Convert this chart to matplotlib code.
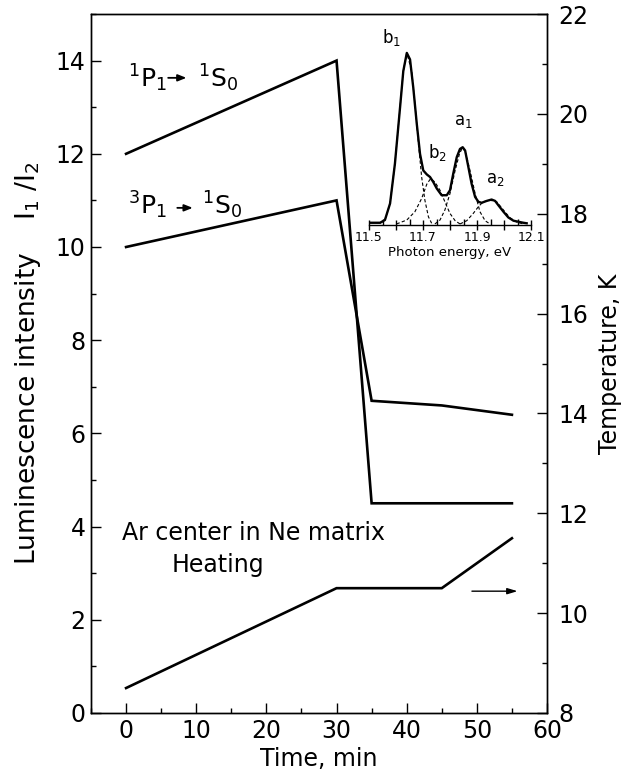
import matplotlib
matplotlib.use('Agg')
import matplotlib.pyplot as plt
from matplotlib.ticker import MultipleLocator, FixedLocator, FixedFormatter

plt.rcParams['font.family'] = ['DejaVu Sans']
plt.rcParams['mathtext.default'] = 'regular'

# ---------------- main data ----------------
time_1p1 = [0, 30, 35, 55]
ratio_1p1 = [12.0, 14.0, 4.5, 4.5]
time_3p1 = [0, 30, 35, 45, 55]
ratio_3p1 = [10.0, 11.0, 6.7, 6.6, 6.4]
time_temp = [0, 30, 45, 55]
temperature = [8.5, 10.5, 10.5, 11.5]

x_ticks = [0, 10, 20, 30, 40, 50, 60]
left_ticks = [0, 2, 4, 6, 8, 10, 12, 14]
right_ticks = [8, 10, 12, 14, 16, 18, 20, 22]

# ---------------- inset data ----------------
energy = [11.500, 11.541, 11.559, 11.578, 11.596, 11.615, 11.627, 11.640, 11.652,
          11.664, 11.677, 11.689, 11.701, 11.714, 11.726, 11.738, 11.751, 11.769,
          11.788, 11.800, 11.812, 11.825, 11.837, 11.847, 11.856, 11.868, 11.880,
          11.893, 11.905, 11.917, 11.936, 11.954, 11.967, 11.979, 11.998, 12.016,
          12.035, 12.053, 12.072, 12.084]
spectrum = [0.013, 0.013, 0.029, 0.125, 0.356, 0.683, 0.894, 1.000, 0.962,
            0.798, 0.587, 0.413, 0.317, 0.294, 0.279, 0.250, 0.212, 0.173,
            0.173, 0.202, 0.298, 0.394, 0.442, 0.452, 0.433, 0.337, 0.240,
            0.163, 0.135, 0.129, 0.140, 0.148, 0.140, 0.115, 0.077, 0.044,
            0.025, 0.019, 0.013, 0.010]

b1_energy = [11.541, 11.559, 11.578, 11.596, 11.615, 11.627, 11.640, 11.658,
             11.670, 11.683, 11.695, 11.707, 11.720, 11.732]
b1_int = [0.010, 0.029, 0.125, 0.356, 0.683, 0.894, 1.000, 0.894,
          0.704, 0.475, 0.279, 0.144, 0.048, 0.010]
b2_energy = [11.602, 11.640, 11.670, 11.695, 11.714, 11.728, 11.744, 11.763,
             11.781, 11.800, 11.819, 11.837]
b2_int = [0.006, 0.029, 0.077, 0.154, 0.237, 0.269, 0.250, 0.202,
          0.135, 0.067, 0.025, 0.006]
a1_energy = [11.744, 11.763, 11.781, 11.800, 11.819, 11.835, 11.847, 11.859,
             11.874, 11.893, 11.911, 11.930, 11.948]
a1_int = [0.006, 0.029, 0.087, 0.183, 0.317, 0.413, 0.452, 0.413,
          0.317, 0.183, 0.077, 0.025, 0.006]
a2_energy = [11.837, 11.862, 11.886, 11.905, 11.923, 11.948, 11.973, 11.998,
             12.022, 12.047, 12.072]
a2_int = [0.006, 0.025, 0.067, 0.106, 0.135, 0.144, 0.135, 0.087,
          0.042, 0.017, 0.006]

inset_ticks = [11.5, 11.6, 11.7, 11.8, 11.9, 12.0, 12.1]
inset_ticklabels = ['11.5', '', '11.7', '', '11.9', '', '12.1']

peak_labels = ['b$_1$', 'b$_2$', 'a$_1$', 'a$_2$']
peak_label_pos = [(11.584, 1.03), (11.753, 0.36), (11.849, 0.55), (11.967, 0.215)]

# ---------------- figure ----------------
fig = plt.figure(figsize=(6.23, 7.8), dpi=100)
ax = fig.add_axes([91/623, 1-713/780, (547-91)/623, (713-14)/780])
ax2 = ax.twinx()

lw = 1.9
ax.plot(time_1p1, ratio_1p1, color='black', lw=lw, solid_joinstyle='miter')
ax.plot(time_3p1, ratio_3p1, color='black', lw=lw, solid_joinstyle='miter')
ax2.plot(time_temp, temperature, color='black', lw=lw, solid_joinstyle='miter')

ax.set_xlim(-5, 60)
ax.set_ylim(0, 15)
ax2.set_ylim(8, 22)

ax.set_xticks(x_ticks)
ax.set_yticks(left_ticks)
ax2.set_yticks(right_ticks)
ax.xaxis.set_minor_locator(MultipleLocator(5))
ax.yaxis.set_minor_locator(MultipleLocator(1))
ax2.yaxis.set_minor_locator(MultipleLocator(1))

for a in (ax, ax2):
    for s in a.spines.values():
        s.set_linewidth(1.0)
ax.tick_params(axis='both', which='major', direction='in', length=7, width=1.0,
               labelsize=17, pad=4)
ax.tick_params(axis='both', which='minor', direction='in', length=3.5, width=1.0)
ax.tick_params(axis='y', right=False)
ax2.tick_params(axis='y', which='major', direction='in', length=7, width=1.0,
                labelsize=17, pad=8)
ax2.tick_params(axis='y', which='minor', direction='in', length=3.5, width=1.0)

ax.set_xlabel('Time, min', fontsize=17, labelpad=3)
ax.set_ylabel('Luminescence intensity    I$_1$ /I$_2$', fontsize=19, labelpad=9)
ax2.set_ylabel('Temperature, K', fontsize=17, labelpad=7)

# transition labels
ax.text(0.3, 13.43, '$^1$P$_1$', fontsize=18, va='baseline', ha='left')
ax.annotate('', xy=(8.6, 13.63), xytext=(6.0, 13.63),
            arrowprops=dict(arrowstyle='-|>,head_length=0.5,head_width=0.2',
                            color='black', lw=1.3, shrinkA=0, shrinkB=0))
ax.text(10.3, 13.43, '$^1$S$_0$', fontsize=18, va='baseline', ha='left')

ax.text(0.3, 10.69, '$^3$P$_1$', fontsize=18, va='baseline', ha='left')
ax.annotate('', xy=(9.5, 10.84), xytext=(7.3, 10.84),
            arrowprops=dict(arrowstyle='-|>,head_length=0.5,head_width=0.2',
                            color='black', lw=1.3, shrinkA=0, shrinkB=0))
ax.text(10.8, 10.69, '$^1$S$_0$', fontsize=18, va='baseline', ha='left')

ax.text(-0.57, 3.86, 'Ar center in Ne matrix', fontsize=17, va='center', ha='left')
ax.text(6.55, 3.18, 'Heating', fontsize=17, va='center', ha='left')

ax2.annotate('', xy=(55.8, 10.44), xytext=(49.3, 10.44),
             arrowprops=dict(arrowstyle='-|>,head_length=0.6,head_width=0.18',
                             color='black', lw=1.0, shrinkA=0, shrinkB=0))

# ---------------- inset ----------------
ins = fig.add_axes([369/623, 1-225/780, 162/623, (225-40)/780])
ins.patch.set_alpha(0)
ins.plot(energy, spectrum, color='black', lw=1.7)
for e, i in ((b1_energy, b1_int), (b2_energy, b2_int), (a1_energy, a1_int), (a2_energy, a2_int)):
    ins.plot(e, i, color='black', lw=0.8, ls=(0, (3, 2)))
ins.set_xlim(11.5, 12.1)
ins.set_ylim(0, 1.075)
for side in ('left', 'right', 'top'):
    ins.spines[side].set_visible(False)
ins.spines['bottom'].set_linewidth(1.0)
ins.set_yticks([])
ins.xaxis.set_major_locator(FixedLocator(inset_ticks))
ins.xaxis.set_major_formatter(FixedFormatter(inset_ticklabels))
ins.xaxis.set_minor_locator(MultipleLocator(0.05))
ins.tick_params(axis='x', which='major', direction='inout', length=7, width=1.0,
                labelsize=9, pad=1)
ins.tick_params(axis='x', which='minor', direction='in', length=4, width=1.0)
ins.set_xlabel('Photon energy, eV', fontsize=9.5, labelpad=1)
for lab, (xe, yi) in zip(peak_labels, peak_label_pos):
    ins.text(xe, yi, lab, fontsize=12, ha='center', va='bottom', clip_on=False)

fig.savefig('out.png', dpi=100)
